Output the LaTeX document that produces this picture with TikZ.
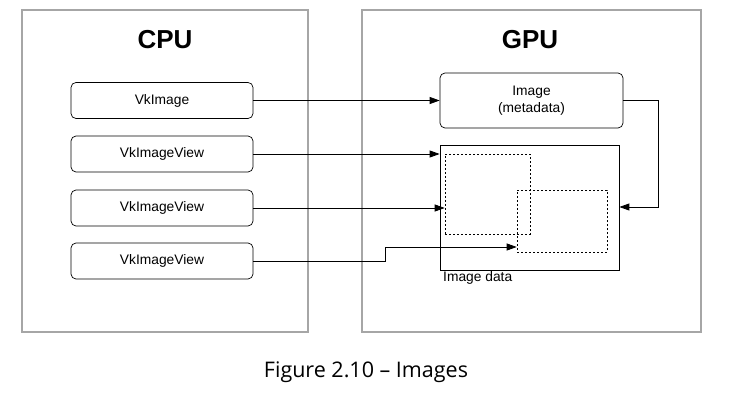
\documentclass[tikz,border=0pt]{standalone}
\usepackage{fontspec}
\setmainfont{Liberation Sans}
\newfontfamily\capfont{Open Sans}
\usetikzlibrary{arrows.meta}
\begin{document}
\begin{tikzpicture}[x=1pt,y=-1pt,
  panel/.style={draw=black!35,line width=1.2pt},
  objbox/.style={draw,rounded corners=5pt,line width=0.7pt,inner sep=0pt},
  datarect/.style={draw,line width=0.7pt},
  viewrect/.style={draw,dashed,dash pattern=on 2pt off 2pt,line width=0.6pt},
  conn/.style={line width=0.8pt,-{Triangle[length=10pt,width=7pt]}},
  lbl/.style={font=\fontsize{13.8}{17}\selectfont},
  title/.style={font=\fontsize{26}{30}\selectfont\bfseries}]
\useasboundingbox (0,0) rectangle (731,409);
% panels
\draw[panel] (22,10) rectangle (308,332);
\draw[panel] (362,10) rectangle (701,332);
\node[title] (cpu) at (165,40) {CPU};
\node[title] (gpu) at (530,40) {GPU};
% CPU objects
\node[objbox,minimum width=182pt,minimum height=36pt,lbl] (img) at (162,100.5) {VkImage};
\node[objbox,minimum width=182pt,minimum height=36pt,lbl] (v1) at (162,154) {VkImageView};
\node[objbox,minimum width=182pt,minimum height=36pt,lbl] (v2) at (162,208) {VkImageView};
\node[objbox,minimum width=182pt,minimum height=36pt,lbl] (v3) at (162,261) {VkImageView};
% GPU objects
\node[objbox,minimum width=183pt,minimum height=55pt,lbl,align=center] (meta) at (531.5,100.5) {Image\\(metadata)};
\node[datarect,minimum width=179pt,minimum height=125pt,inner sep=0pt] (data) at (529.5,207.5) {};
\node[viewrect,minimum width=85pt,minimum height=80pt,inner sep=0pt] (r1) at (487.5,194) {};
\node[viewrect,minimum width=90pt,minimum height=62pt,inner sep=0pt] (r2) at (562,221) {};
\node[lbl,anchor=north west,inner sep=0pt] (dlbl) at (443,271) {Image data};
% connectors
\coordinate (t1) at (data.west |- v1.east);
\coordinate (t2) at (r1.west |- v2.east);
\coordinate (t3) at (r2.west |- 0,247);
\coordinate (tm) at (data.east |- 0,207);
\draw[conn] (img.east) -- (meta.west);
\draw[conn] (v1.east) -- (t1);
\draw[conn] (v2.east) -- (t2);
\draw[conn] (v3.east) -- (385,261) -- (385,247) -- (t3);
\draw[conn] (meta.east) -- (658,100.5) -- (658,207) -- (tm);
% caption
\node[font=\capfont\fontsize{21.5}{25}\selectfont] (cap) at (366,372) {Figure 2.10 – Images};
\end{tikzpicture}
\end{document}
